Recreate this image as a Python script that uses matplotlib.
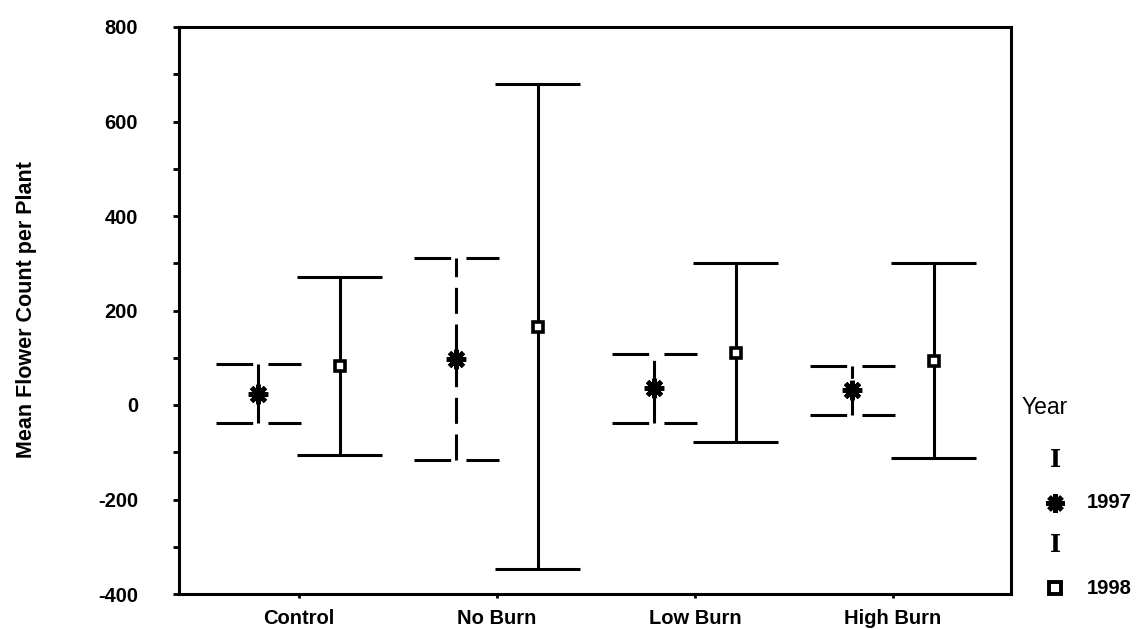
import matplotlib
matplotlib.use("Agg")
import matplotlib.pyplot as plt
import numpy as np
from matplotlib.lines import Line2D
from matplotlib.ticker import MultipleLocator

plt.rcParams['font.family'] = ['Liberation Sans', 'DejaVu Sans']

categories = ['Control', 'No Burn', 'Low Burn', 'High Burn']
years = ['1997', '1998']
mean_1997 = [24, 98, 35, 31]
err_1997 = [62, 214, 73, 52]
mean_1998 = [82, 166, 111, 94]
err_1998 = [188, 513, 189, 206]
yticks = [-400, -200, 0, 200, 400, 600, 800]

fig = plt.figure(figsize=(11.37, 6.29), dpi=100)
ax = fig.add_axes([179/1137, 1-594/629, (1011-179)/1137, (594-27)/629])

x = np.arange(len(categories))
off = 0.205
capw = 0.215
lw = 2.2

# 1997 dashed error bars
m97 = np.array(mean_1997); e97 = np.array(err_1997)
x97 = x - off
ax.vlines(x97, m97 - e97, m97 + e97, colors='black', linewidth=lw,
          linestyles=[(0, (8.5, 3.5))])
for top in (m97 + e97, m97 - e97):
    ax.hlines(top, x97 - capw, x97 + capw, colors='black', linewidth=lw,
              linestyles=[(0, (12, 5))])
ax.plot(x97, m97, linestyle='none', marker=(8, 2, 0), markersize=14,
        markeredgewidth=3.4, color='black', zorder=5)

# 1998 solid error bars
m98 = np.array(mean_1998); e98 = np.array(err_1998)
x98 = x + off
ax.vlines(x98, m98 - e98, m98 + e98, colors='black', linewidth=lw)
for top in (m98 + e98, m98 - e98):
    ax.hlines(top, x98 - capw, x98 + capw, colors='black', linewidth=lw)
ax.plot(x98, m98, linestyle='none', marker='s', markersize=7.5,
        markerfacecolor='white', markeredgecolor='black',
        markeredgewidth=2.6, zorder=5)

ax.set_xlim(-0.606, 3.596)
ax.set_ylim(-400, 800)
ax.set_yticks(yticks)
ax.set_yticklabels([str(v) for v in yticks], fontweight='bold')
ax.yaxis.set_minor_locator(MultipleLocator(100))
ax.set_xticks(x)
ax.set_xticklabels(categories, fontweight='bold')
for s in ax.spines.values():
    s.set_linewidth(2.2)
ax.tick_params(axis='y', which='both', direction='out', length=4.5, width=2,
               labelsize=14.5, pad=25)
ax.tick_params(axis='x', direction='out', length=3, width=2, labelsize=14.5, pad=8)
ax.set_ylabel('Mean Flower Count per Plant', fontsize=15.5, fontweight='bold')
ax.yaxis.set_label_coords((27 - 179) / 832, (594 - 310) / 567)
ax.yaxis.label.set_va('center')

# Legend (manual, outside right)
fig.text(1022/1137, 1-407/629, 'Year', fontsize=16.5, ha='left', va='center')
fig.text(1055/1137, 1-460/629, 'I', fontsize=17, family='DejaVu Serif',
         weight='bold', ha='center', va='center')
fig.text(1055/1137, 1-545/629, 'I', fontsize=17, family='DejaVu Serif',
         weight='bold', ha='center', va='center')
fig.add_artist(Line2D([1055/1137], [1-503/629], marker=(8, 2, 0), markersize=13,
                      markeredgewidth=3.6, color='black', transform=fig.transFigure))
fig.add_artist(Line2D([1055/1137], [1-588/629], marker='s', markersize=8,
                      markerfacecolor='white', markeredgecolor='black',
                      markeredgewidth=2.8, transform=fig.transFigure))
fig.text(1087/1137, 1-503/629, years[0], fontsize=14.5, fontweight='bold',
         ha='left', va='center')
fig.text(1087/1137, 1-588/629, years[1], fontsize=14.5, fontweight='bold',
         ha='left', va='center')

fig.savefig('out.png', dpi=100)
